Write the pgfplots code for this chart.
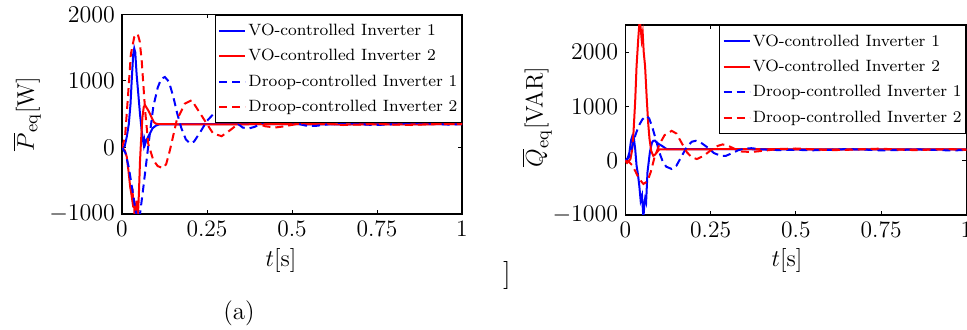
\documentclass[border=0pt]{standalone}
\usepackage{pgfplots}
\pgfplotsset{compat=1.18}
\pgfplotsset{
  mystyle/.style={
    scale only axis,
    xmin=0, xmax=1,
    xtick={0,0.25,0.5,0.75,1},
    xticklabels={0,0.25,0.5,0.75,1},
    ytick={-1000,0,1000,2000},
    scaled ticks=false,
    /pgf/number format/1000 sep={},
    tick align=inside,
    major tick length=2pt,
    axis line style={line width=0.7pt},
    tick style={line width=0.5pt, black},
    tick label style={font=\fontsize{11.75}{14}\selectfont},
    label style={font=\fontsize{12.5}{15}\selectfont},
    legend cell align=left,
    legend image code/.code={\draw[##1] (0pt,0pt) -- (13pt,0pt);},
    legend style={at={(1,1)}, anchor=north east, draw=black, line width=0.7pt,
      font=\fontsize{8.2}{10}\selectfont, inner xsep=1.5pt, inner ysep=2pt,
      column sep=0.6pt, row sep=1pt,
      nodes={inner xsep=0.5pt, inner ysep=1pt, text height=0.72em, text depth=0.25em}},
    every axis plot/.append style={line width=1pt},
  },
  vo1/.style={blue, solid},
  vo2/.style={red, solid},
  dr1/.style={blue, dash pattern=on 4pt off 2.5pt},
  dr2/.style={red, dash pattern=on 4pt off 2.5pt},
}
\begin{document}
\begin{tikzpicture}
\useasboundingbox (0,0) rectangle (483.5pt,165pt);
\clip (0,0) rectangle (483.5pt,165pt);
% ---------------- left axis ----------------
\begin{axis}[mystyle,
  at={(61pt,58pt)}, anchor=south west,
  width=170pt, height=99.75pt,
  ymin=-1000, ymax=2000,
  xlabel={$t[\mathrm{s}]$},
  ylabel={$\overline{P}_{\mathrm{eq}}[\mathrm{W}]$},
  xlabel style={at={(axis description cs:0.468,-0.231)}, anchor=center},
  ylabel style={at={(axis description cs:-0.279,0.501)}, anchor=center, rotate=0},
]
\addplot[vo1] coordinates {(0,0) (0.008,20) (0.014,160) (0.02,350) (0.025,650) (0.029,1050) (0.033,1400) (0.036,1490) (0.039,1430) (0.043,1100) (0.048,800) (0.053,500) (0.058,250) (0.062,100) (0.064,40) (0.066,110) (0.068,50) (0.071,100) (0.076,150) (0.083,220) (0.09,290) (0.1,330) (0.11,348) (0.2,350) (0.4,352) (0.6,348) (0.8,352) (1,350)};
\addlegendentry{VO-controlled Inverter 1}
\addplot[vo2] coordinates {(0,0) (0.008,-40) (0.014,-140) (0.019,-350) (0.024,-590) (0.027,-680) (0.029,-750) (0.031,-620) (0.033,-900) (0.035,-760) (0.037,-1050) (0.039,-880) (0.041,-980) (0.043,-800) (0.045,-1100) (0.048,-900) (0.05,-650) (0.053,-200) (0.056,100) (0.06,450) (0.064,610) (0.068,635) (0.072,600) (0.077,560) (0.082,510) (0.088,440) (0.094,380) (0.1,358) (0.11,350) (0.3,348) (0.5,352) (0.7,348) (1,350)};
\addlegendentry{VO-controlled Inverter 2}
\addplot[dr1] coordinates {(0,0) (0.01,-80) (0.02,-300) (0.03,-620) (0.04,-950) (0.047,-1100) (0.053,-1000) (0.063,-590) (0.077,10) (0.092,610) (0.105,900) (0.115,1030) (0.126,1060) (0.138,990) (0.151,760) (0.163,500) (0.175,285) (0.188,120) (0.2,60) (0.212,90) (0.23,230) (0.25,400) (0.27,510) (0.293,550) (0.315,490) (0.335,380) (0.355,300) (0.372,285) (0.39,310) (0.415,375) (0.44,420) (0.46,428) (0.485,405) (0.51,365) (0.54,330) (0.57,325) (0.6,345) (0.63,370) (0.66,370) (0.7,350) (0.74,338) (0.78,345) (0.82,360) (0.87,365) (0.92,355) (0.96,345) (1,352)};
\addlegendentry{Droop-controlled Inverter 1}
\addplot[dr2] coordinates {(0,0) (0.009,160) (0.018,800) (0.026,1400) (0.036,1660) (0.046,1710) (0.052,1600) (0.058,1300) (0.068,560) (0.077,60) (0.092,-190) (0.105,-280) (0.12,-310) (0.13,-250) (0.141,-40) (0.161,410) (0.185,660) (0.205,711) (0.224,560) (0.249,360) (0.268,210) (0.293,170) (0.318,260) (0.343,360) (0.366,420) (0.391,385) (0.42,320) (0.45,300) (0.48,320) (0.52,360) (0.56,375) (0.6,360) (0.65,338) (0.7,345) (0.75,358) (0.8,345) (0.85,338) (0.9,350) (0.95,357) (1,350)};
\addlegendentry{Droop-controlled Inverter 2}
\end{axis}
% ---------------- right axis ----------------
\begin{axis}[mystyle,
  at={(312.65pt,57.5pt)}, anchor=south west,
  width=170.5pt, height=95pt,
  ymin=-1000, ymax=2500,
  xlabel={$t[\mathrm{s}]$},
  ylabel={$\overline{Q}_{\mathrm{eq}}[\mathrm{VAR}]$},
  xlabel style={at={(axis description cs:0.474,-0.237)}, anchor=center},
  ylabel style={at={(axis description cs:-0.259,0.516)}, anchor=center, rotate=0},
]
\addplot[vo1] coordinates {(0,0) (0.006,30) (0.012,150) (0.017,380) (0.021,460) (0.025,420) (0.029,215) (0.033,-90) (0.037,-250) (0.041,-460) (0.045,-734) (0.049,-642) (0.053,-1050) (0.056,-800) (0.058,-703) (0.061,-765) (0.065,-214) (0.072,153) (0.078,330) (0.082,367) (0.087,370) (0.092,336) (0.1,300) (0.107,275) (0.121,215) (0.3,212) (0.6,208) (1,210)};
\addlegendentry{VO-controlled Inverter 1}
\addplot[vo2] coordinates {(0,0) (0.005,-40) (0.01,-10) (0.015,30) (0.02,200) (0.024,520) (0.029,1100) (0.033,1740) (0.038,2250) (0.042,2600) (0.045,2450) (0.048,2230) (0.051,2350) (0.054,2000) (0.058,1740) (0.063,1130) (0.067,700) (0.071,400) (0.076,180) (0.082,90) (0.087,110) (0.092,150) (0.1,210) (0.4,212) (0.7,208) (1,210)};
\addlegendentry{VO-controlled Inverter 2}
\addplot[dr1] coordinates {(0,0) (0.01,60) (0.02,250) (0.03,480) (0.04,650) (0.05,760) (0.061,826) (0.07,780) (0.08,600) (0.09,380) (0.1,150) (0.11,-20) (0.12,-110) (0.136,-152) (0.15,-90) (0.165,80) (0.18,250) (0.195,350) (0.207,367) (0.22,340) (0.24,250) (0.26,140) (0.28,90) (0.295,90) (0.31,130) (0.33,190) (0.35,225) (0.37,230) (0.4,210) (0.45,195) (0.5,200) (0.55,192) (0.6,200) (0.65,215) (0.7,205) (0.75,190) (0.8,195) (0.85,210) (0.9,200) (0.95,190) (1,195)};
\addlegendentry{Droop-controlled Inverter 1}
\addplot[dr2] coordinates {(0,0) (0.01,-20) (0.02,-80) (0.03,-200) (0.04,-330) (0.053,-428) (0.065,-380) (0.075,-200) (0.085,50) (0.1,300) (0.115,470) (0.136,550) (0.15,500) (0.165,330) (0.18,160) (0.195,60) (0.21,31) (0.23,90) (0.25,190) (0.27,270) (0.285,300) (0.3,280) (0.32,220) (0.34,170) (0.37,160) (0.4,180) (0.45,215) (0.5,225) (0.55,210) (0.6,195) (0.65,200) (0.7,215) (0.75,222) (0.8,205) (0.85,195) (0.9,205) (0.95,215) (1,200)};
\addlegendentry{Droop-controlled Inverter 2}
\end{axis}
\node[font=\fontsize{12.5}{15}\selectfont] at (119.5pt,8.5pt) {(a)};
\node[font=\fontsize{14}{16}\selectfont] at (253.5pt,27pt) {]};
\end{tikzpicture}
\end{document}
